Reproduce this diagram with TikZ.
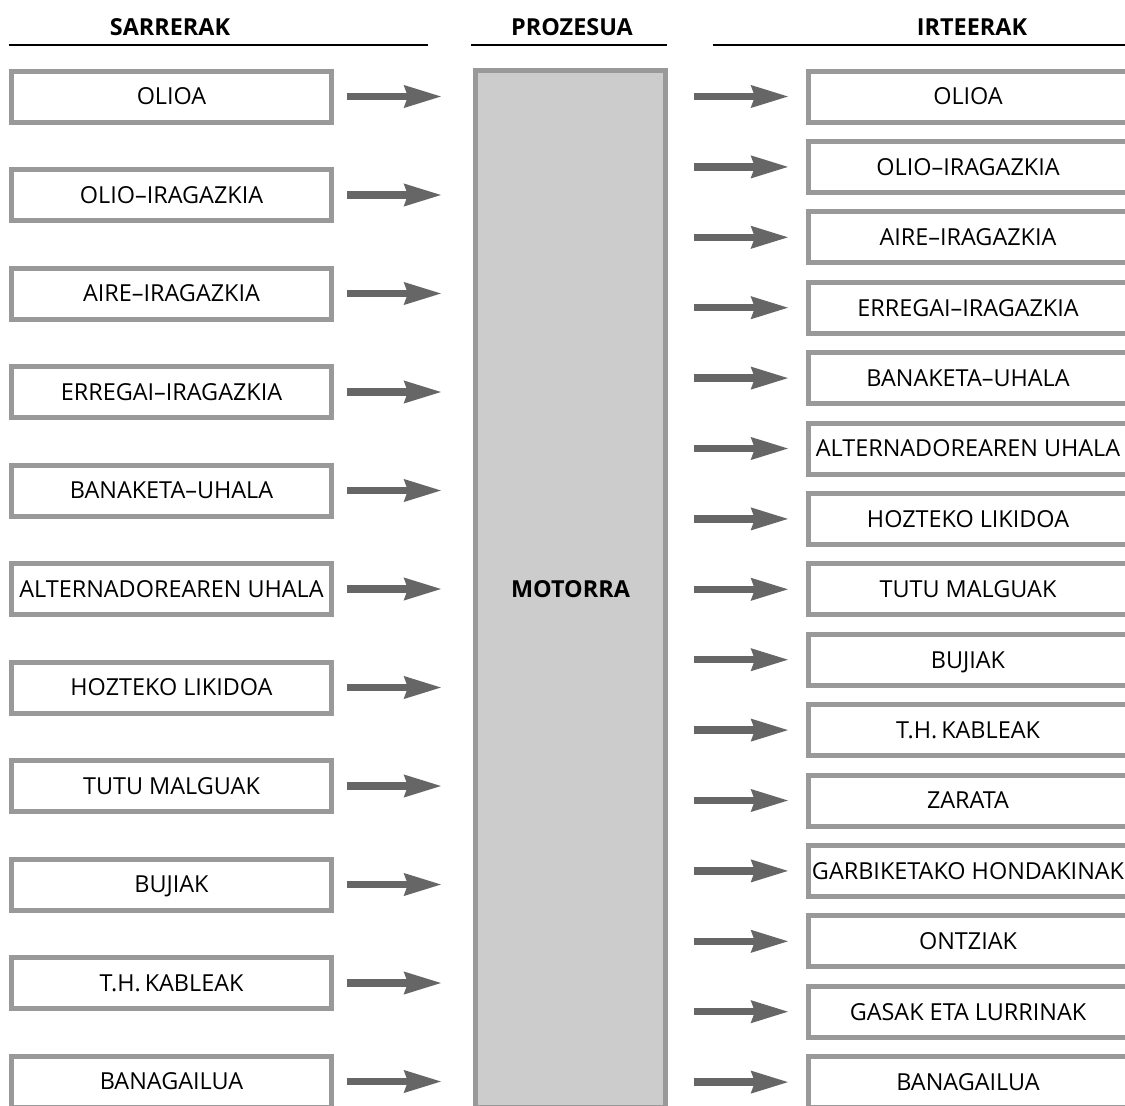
\documentclass[tikz,border=0pt]{standalone}
\usepackage{fontspec}
\setmainfont{Open Sans}
\usetikzlibrary{arrows.meta}
\definecolor{boxgray}{HTML}{999999}
\definecolor{fillgray}{HTML}{CCCCCC}
\definecolor{arrgray}{HTML}{666666}
\begin{document}
\begin{tikzpicture}[x=1bp,y=-1bp,
  txt/.style={font=\fontsize{23.5}{27}\selectfont, text height=16.8bp, text depth=0bp},
  inbox/.style={txt, draw=boxgray, fill=white, line width=5bp, minimum width=320bp, minimum height=51bp, inner sep=0pt},
  outbox/.style={inbox, minimum width=319bp},
  procbox/.style={draw=boxgray, fill=fillgray, line width=5bp, minimum width=190bp, minimum height=1037bp, inner sep=0pt,
    font=\bfseries\fontsize{23.5}{27}\selectfont},
  flow/.style={draw=arrgray, line width=7.5bp, -{Stealth[length=37bp,width=21bp,inset=3bp]}},
  head/.style={font=\bfseries\fontsize{23.5}{27}\selectfont, inner sep=0pt},
  rule/.style={line width=2.5bp}]
\useasboundingbox (0,0) rectangle (1125,1106);
\clip (0,0) rectangle (1125,1106);
\fill[white] (0,0) rectangle (1125,1106);

% headers
\node[head] (h1) at (170,27) {SARRERAK};
\node[head] (h2) at (572,27) {PROZESUA};
\node[head] (h3) at (972,27) {IRTEERAK};
\draw[rule] (9,45) -- (428,45);
\draw[rule] (471,45) -- (667,45);
\draw[rule] (713,45) -- (1125,45);

% process
\node[procbox] (M) at (570.5,589) {MOTORRA};

% inputs
\foreach \t [count=\i] in {OLIOA, OLIO–IRAGAZKIA, AIRE–IRAGAZKIA, ERREGAI–IRAGAZKIA, BANAKETA–UHALA,
  ALTERNADOREAREN UHALA, HOZTEKO LIKIDOA, TUTU MALGUAK, BUJIAK, T.H.\kern4bp KABLEAK, BANAGAILUA}{
  \node[inbox] (L\i) at (171.5,{96.5+98.5*(\i-1)}) {\t};
  \draw[flow, shorten <=13bp, shorten >=31bp] (L\i.east) -- (L\i.east -| M.west);
}

% outputs
\foreach \t [count=\i] in {OLIOA, OLIO–IRAGAZKIA, AIRE–IRAGAZKIA, ERREGAI–IRAGAZKIA, BANAKETA–UHALA,
  ALTERNADOREAREN UHALA, HOZTEKO LIKIDOA, TUTU MALGUAK, BUJIAK, T.H.\kern4bp KABLEAK, ZARATA,
  GARBIKETAKO HONDAKINAK, ONTZIAK, GASAK ETA LURRINAK, BANAGAILUA}{
  \node[outbox] (R\i) at (968,{96.5+70.4*(\i-1)}) {\t};
  \draw[flow, shorten <=26bp, shorten >=17bp] (R\i.west -| M.east) -- (R\i.west);
}
\end{tikzpicture}
\end{document}
